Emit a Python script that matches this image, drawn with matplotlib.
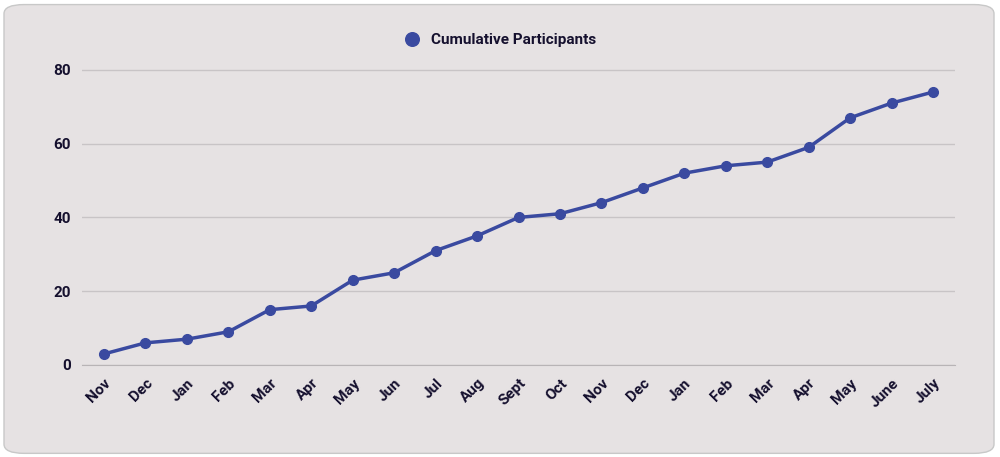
import matplotlib.pyplot as plt
from matplotlib.patches import FancyBboxPatch

plt.rcParams['font.family'] = ['Roboto', 'DejaVu Sans']

months = ['Nov', 'Dec', 'Jan', 'Feb', 'Mar', 'Apr', 'May', 'Jun', 'Jul', 'Aug', 'Sept',
          'Oct', 'Nov', 'Dec', 'Jan', 'Feb', 'Mar', 'Apr', 'May', 'June', 'July']
participants = [3, 6, 7, 9, 15, 16, 23, 25, 31, 35, 40, 41, 44, 48, 52, 54, 55, 59, 67, 71, 74]

bg = '#e6e2e3'
line_col = '#3a4aa0'
txt = '#15102e'

fig = plt.figure(figsize=(10, 4.57), dpi=100)
fig.patch.set_facecolor('white')
fig.patches.append(FancyBboxPatch((0.004, 0.008), 0.99, 0.982, boxstyle='round,pad=0,rounding_size=0.02',
                                  transform=fig.transFigure, facecolor=bg, edgecolor='#c8c8c8', lw=1,
                                  zorder=-10))

ax = fig.add_axes([0.082, 1 - 365 / 457, 0.873, (365 - 33) / 457])
ax.set_zorder(5)
ax.set_facecolor('none')
x = range(len(months))
ax.plot(x, participants, color=line_col, lw=2.5, marker='o', ms=7, label='Cumulative Participants')
ax.set_xlim(-0.53, len(months) - 0.47)
ax.set_ylim(0, 90)
ax.set_yticks([0, 20, 40, 60, 80])
ax.set_xticks(list(x))
ax.set_xticklabels(months, rotation=45, ha='right', rotation_mode='anchor')
ax.tick_params(length=0, labelsize=11, colors=txt, pad=8)
for lab in ax.get_xticklabels() + ax.get_yticklabels():
    lab.set_fontweight('bold')
ax.grid(axis='y', color='#c8c4c6', lw=1)
for s in ['top', 'right', 'left']:
    ax.spines[s].set_visible(False)
ax.spines['bottom'].set_color('#b8b4b6')
ax.set_axisbelow(True)

leg = ax.legend(loc='upper center', bbox_to_anchor=(0.48, 1.04), frameon=False,
                handlelength=0.8, markerscale=1.4, prop={'weight': 'bold', 'size': 11})
for h in leg.legend_handles:
    h.set_linestyle('none')
for t in leg.get_texts():
    t.set_color(txt)

fig.savefig('out.png', dpi=100)
